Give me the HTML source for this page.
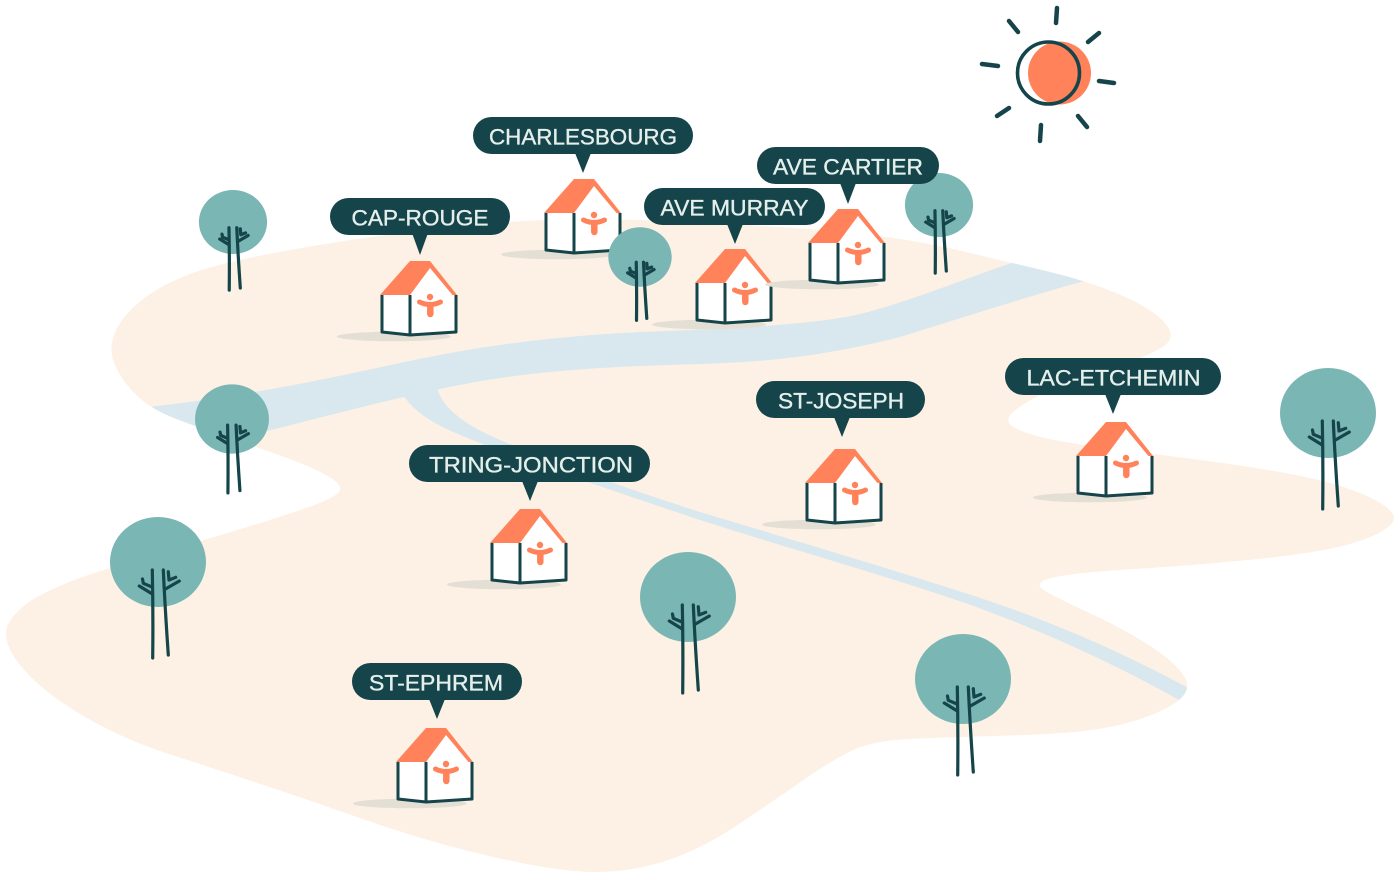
<!DOCTYPE html>
<html><head><meta charset="utf-8"><style>
html,body{margin:0;padding:0;background:#fff;}
svg{display:block;}
.lbl{font-family:"Liberation Sans",sans-serif;font-size:22px;fill:#E4EFEB;stroke:#E4EFEB;stroke-width:0.35;}
</style></head><body>
<svg width="1400" height="880" viewBox="0 0 1400 880" xmlns="http://www.w3.org/2000/svg">
<defs>
<clipPath id="land"><path id="landp" d="M 114,335 Q 120,318 140,301.5 Q 160,285 191.5,273.5 Q 223,262 290,250 Q 357,238 424,230 Q 491,222 545.5,220 Q 600,218 680,221.5 Q 760,225 831.5,231 Q 903,237 957.5,250 Q 1012,263 1048,271.5 Q 1084,280 1115,292.5 Q 1146,305 1161,319 Q 1176,333 1168,342.5 Q 1160,352 1120,365 Q 1080,378 1055,388.5 Q 1030,399 1016,409.5 Q 1002,420 1013.5,427 Q 1025,434 1052,439.5 Q 1079,445 1157.5,454.5 Q 1236,464 1288,473.5 Q 1340,483 1370,497.5 Q 1400,512 1392.5,522.5 Q 1385,533 1355,542.5 Q 1325,552 1262.5,558.5 Q 1200,565 1135,569 Q 1070,573 1051,578 Q 1032,583 1044.5,590.5 Q 1057,598 1090.5,613.5 Q 1124,629 1149.5,645.5 Q 1175,662 1184,676 Q 1193,690 1176.5,702 Q 1160,714 1125,723.5 Q 1090,733 1025,735 Q 960,737 917.5,738.5 Q 875,740 853.5,750 Q 832,760 803.5,780 Q 775,800 737.5,825 Q 700,850 665.5,861 Q 631,872 595.5,872 Q 560,872 495.5,857.5 Q 431,843 365.5,820 Q 300,797 256,782.5 Q 212,768 166,753 Q 120,738 80,714 Q 40,690 20,665 Q 0,640 8.5,623.5 Q 17,607 43.5,593.5 Q 70,580 110,568 Q 150,556 209,538.5 Q 268,521 299,510.5 Q 330,500 337.5,493.5 Q 345,487 331,478 Q 317,469 287,458 Q 257,447 228.5,437.5 Q 200,428 176.5,419 Q 153,410 139,397.5 Q 125,385 116.5,368.5 Q 108,352 114,335 Z"/></clipPath>
<g id="house">
  <ellipse cx="14" cy="41.5" rx="57" ry="4.8" fill="#E3DFD5"/>
  <polygon points="2,0 30,0 50,-27 73,0 76,0 76,37 30,40 2,37" fill="#FFFFFF"/>
  <polygon points="0,0 30,-34 50,-34 77,0 72.5,0 50,-27 30,0" fill="#FF825A"/>
  <path d="M2,0 L2,37 L30,40 L76,37 L76,0 M30,0 L30,40" fill="none" stroke="#15444A" stroke-width="3" stroke-linejoin="round"/>
  <circle cx="50" cy="2" r="3.2" fill="#FF825A"/>
  <path d="M39.5,7 Q50,12 60.5,7" fill="none" stroke="#FF825A" stroke-width="5" stroke-linecap="round"/>
  <line x1="50.3" y1="10" x2="50.3" y2="19" stroke="#FF825A" stroke-width="6.5" stroke-linecap="round"/>
</g>
<g id="tree">
  <ellipse cx="0" cy="0" rx="48" ry="45" fill="#7AB6B4"/>
  <g fill="none" stroke="#15444A" stroke-width="3.2" stroke-linecap="round" stroke-linejoin="round" vector-effect="non-scaling-stroke">
    <path d="M-5.7,8 C-5,40 -5,70 -5.3,96" vector-effect="non-scaling-stroke"/>
    <path d="M5.3,8 C6.3,30 8,60 10.3,93" vector-effect="non-scaling-stroke"/>
    <path d="M-18.7,24 L-5.7,32" vector-effect="non-scaling-stroke"/>
    <path d="M-15.5,17 L-14.7,21.3 L-6,25" vector-effect="non-scaling-stroke"/>
    <path d="M7,27.3 L21.3,19" vector-effect="non-scaling-stroke"/>
    <path d="M10.3,9.7 L11,18 L17.7,15.3" vector-effect="non-scaling-stroke"/>
  </g>
</g>
</defs>

<!-- land -->
<use href="#landp" fill="#FCF1E4"/>

<!-- rivers -->
<g clip-path="url(#land)" fill="#D9E7EE">
  <path d="M 140,408 C 250,396 330,378 400,363 C 470,348 540,337 640,332 C 720,329 790,326 840,318 C 890,310 960,280 1012,263 L 1100,255 L 1100,285 L 1084,281 C 1030,296 960,318 900,337 C 830,355 770,362 700,364 C 620,366 540,370 470,383 C 400,396 320,418 267,431 C 220,445 170,440 140,412 Z"/>
  <path d="M 398,386 C 412,415 440,428 491,447 C 560,473 640,500 700,520 C 800,552 900,580 968,604 C 1040,630 1120,665 1200,712 L 1210,700 C 1130,655 1050,620 968,594 C 900,572 800,542 700,512 C 640,493 560,465 500,440 C 460,423 440,405 436,384 Z"/>
</g>

<!-- houses -->
<use href="#house" transform="translate(380,295)"/>
<use href="#house" transform="translate(544,213)"/>
<use href="#house" transform="translate(695,283)"/>
<use href="#house" transform="translate(808,243)"/>
<use href="#house" transform="translate(805,483)"/>
<use href="#house" transform="translate(1076,456)"/>
<use href="#house" transform="translate(490,543)"/>
<use href="#house" transform="translate(396,762)"/>

<!-- trees -->
<use href="#tree" transform="translate(233,222) scale(0.71)"/>
<use href="#tree" transform="translate(640,257) scale(0.66)"/>
<use href="#tree" transform="translate(939,205) scale(0.71)"/>
<use href="#tree" transform="translate(232,419) scale(0.77)"/>
<use href="#tree" transform="translate(158,562)"/>
<use href="#tree" transform="translate(688,597)"/>
<use href="#tree" transform="translate(963,679)"/>
<use href="#tree" transform="translate(1328,413)"/>

<!-- labels -->
<g fill="#15444A">
  <rect x="330" y="198" width="180" height="37" rx="18.5"/><polygon points="412,233 428,233 420,255"/>
  <rect x="473" y="117" width="220" height="37" rx="18.5"/><polygon points="575,153 591,153 583,173"/>
  <rect x="757" y="147" width="182" height="37" rx="18.5"/><polygon points="840,183 856,183 848,204"/>
  <rect x="644" y="188" width="181" height="37" rx="18.5"/><polygon points="727,224 743,224 735,244"/>
  <rect x="756" y="381" width="169" height="37" rx="18.5"/><polygon points="834,417 850,417 842,437"/>
  <rect x="1005" y="358" width="216" height="37" rx="18.5"/><polygon points="1105,394 1121,394 1113,414"/>
  <rect x="409" y="445" width="241" height="37" rx="18.5"/><polygon points="522,481 538,481 530,501"/>
  <rect x="352" y="663" width="170" height="37" rx="18.5"/><polygon points="429,699 445,699 437,719"/>
</g>
<g class="lbl" text-anchor="middle">
  <text x="420" y="225.5" textLength="137" lengthAdjust="spacingAndGlyphs">CAP-ROUGE</text>
  <text x="583" y="144.5" textLength="188" lengthAdjust="spacingAndGlyphs">CHARLESBOURG</text>
  <text x="848" y="174.5" textLength="150" lengthAdjust="spacingAndGlyphs">AVE CARTIER</text>
  <text x="734.5" y="215.5" textLength="148" lengthAdjust="spacingAndGlyphs">AVE MURRAY</text>
  <text x="841" y="408.5" textLength="126" lengthAdjust="spacingAndGlyphs">ST-JOSEPH</text>
  <text x="1113.5" y="385.5" textLength="174" lengthAdjust="spacingAndGlyphs">LAC-ETCHEMIN</text>
  <text x="531" y="472.5" textLength="204" lengthAdjust="spacingAndGlyphs">TRING-JONCTION</text>
  <text x="436" y="690.5" textLength="134" lengthAdjust="spacingAndGlyphs">ST-EPHREM</text>
</g>

<!-- sun -->
<circle cx="1059.5" cy="73" r="31.5" fill="#FF825A"/>
<ellipse cx="1048.5" cy="73" rx="31" ry="31" fill="none" stroke="#15444A" stroke-width="3.6"/>
<g stroke="#15444A" stroke-width="4.5" stroke-linecap="round">
  <line x1="1057" y1="8" x2="1056" y2="23"/>
  <line x1="1009" y1="21" x2="1018" y2="32"/>
  <line x1="1099" y1="33" x2="1088" y2="42"/>
  <line x1="982" y1="64" x2="998" y2="66"/>
  <line x1="1099" y1="81" x2="1114" y2="83"/>
  <line x1="1009" y1="108" x2="997" y2="116"/>
  <line x1="1041" y1="125" x2="1040" y2="141"/>
  <line x1="1078" y1="116" x2="1087" y2="127"/>
</g>
</svg>
</body></html>
